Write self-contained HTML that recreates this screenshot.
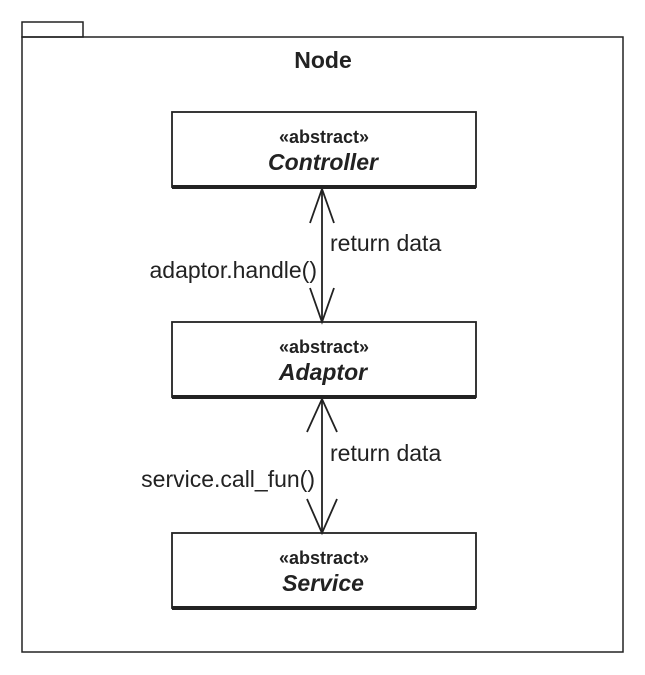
<!DOCTYPE html>
<html><head><meta charset="utf-8"><style>
html,body{margin:0;padding:0;background:#fff;}
svg{display:block;font-family:"Liberation Sans",Arial,sans-serif;}
</style></head><body>
<svg width="645" height="675" viewBox="0 0 645 675" xmlns="http://www.w3.org/2000/svg">
<rect x="0" y="0" width="645" height="675" fill="#fff"/>
<g fill="none" stroke="#222" stroke-width="1.5">
<rect x="22" y="22" width="61" height="15"/>
<rect x="22" y="37" width="601" height="615"/>
</g>
<text x="323" y="68" text-anchor="middle" font-size="23" font-weight="bold" fill="#222">Node</text>
<g stroke="#222" stroke-width="1.8" fill="#fff">
<rect x="172" y="112" width="304" height="75"/>
<rect x="172" y="322" width="304" height="75"/>
<rect x="172" y="533" width="304" height="75"/>
</g>
<g fill="#222">
<rect x="172" y="185" width="304" height="4"/>
<rect x="172" y="395" width="304" height="4"/>
<rect x="172" y="606" width="304" height="4"/>
</g>
<g text-anchor="middle" fill="#222">
<text x="324" y="143" font-size="18" font-weight="bold">«abstract»</text>
<text x="323" y="170" font-size="23" font-weight="bold" font-style="italic">Controller</text>
<text x="324" y="353" font-size="18" font-weight="bold">«abstract»</text>
<text x="323" y="380" font-size="23" font-weight="bold" font-style="italic">Adaptor</text>
<text x="324" y="564" font-size="18" font-weight="bold">«abstract»</text>
<text x="323" y="591" font-size="23" font-weight="bold" font-style="italic">Service</text>
</g>
<g stroke="#222" stroke-width="1.8" fill="none">
<line x1="322" y1="189" x2="322" y2="322"/>
<polyline points="310,223 322,189 334,223"/>
<polyline points="310,288 322,322 334,288"/>
<line x1="322" y1="399" x2="322" y2="533"/>
<polyline points="307,432 322,399 337,432"/>
<polyline points="307,499 322,533 337,499"/>
</g>
<g font-size="23" fill="#222">
<text x="330" y="251">return data</text>
<text x="317" y="278" text-anchor="end">adaptor.handle()</text>
<text x="330" y="461">return data</text>
<text x="315" y="487" text-anchor="end">service.call_fun()</text>
</g>
</svg>
</body></html>
